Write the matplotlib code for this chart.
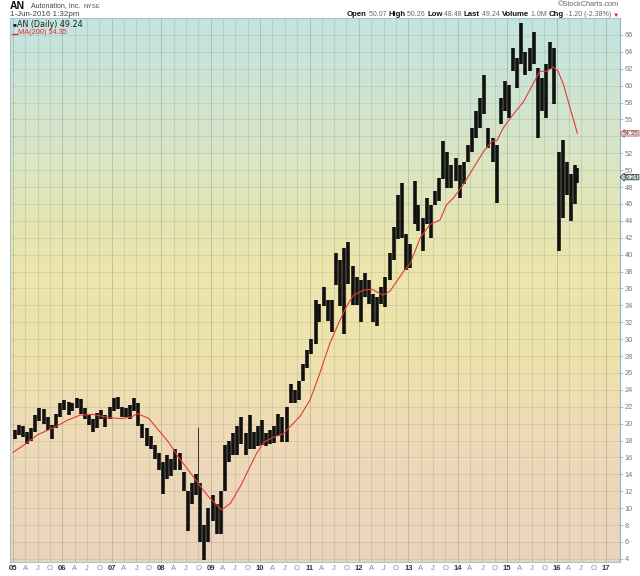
import matplotlib
matplotlib.use("Agg")
import matplotlib.pyplot as plt
import numpy as np
import pandas as pd
from datetime import datetime, timedelta
from matplotlib.offsetbox import TextArea, HPacker, AnnotationBbox
from matplotlib.colors import LinearSegmentedColormap

# ---------------- data ----------------
# monthly price range of AN, Jan 2005 .. Jun 2016
month_lows = [
    18.2, 18.6, 18.4, 17.6, 18.0, 19.0, 20.3, 20.0, 19.3, 18.2, 19.5, 20.8,   # 2005
    21.6, 21.0, 21.5, 21.8, 21.2, 20.5, 19.8, 19.0, 19.5, 20.5, 19.6, 20.5,   # 2006
    21.5, 21.7, 20.8, 20.8, 20.6, 21.5, 19.7, 18.3, 17.3, 17.0, 15.8, 14.5,   # 2007
    11.7, 13.5, 13.8, 14.5, 14.5, 12.0, 7.3, 10.5, 11.5, 6.0, 3.9, 6.0,       # 2008
    8.5, 7.0, 7.0, 12.0, 15.5, 16.3, 16.3, 17.6, 16.3, 17.0, 17.0, 17.3,      # 2009
    17.5, 17.3, 17.6, 17.7, 18.5, 17.8, 17.8, 22.4, 22.4, 22.8, 25.1, 26.6,   # 2010
    28.2, 29.4, 32.0, 33.9, 32.2, 30.8, 36.4, 33.9, 30.6, 36.5, 34.0, 34.0,   # 2011
    32.0, 35.0, 34.2, 32.0, 31.6, 34.2, 33.8, 37.0, 39.4, 41.8, 42.0, 38.2,   # 2012
    38.4, 43.6, 42.8, 40.4, 43.6, 42.0, 45.9, 46.3, 49.0, 47.9, 47.9, 48.7,   # 2013
    46.7, 48.3, 51.0, 52.2, 53.8, 55.0, 56.6, 52.6, 51.0, 46.1, 55.4, 57.0,   # 2014
    56.2, 61.7, 59.7, 62.5, 61.3, 61.7, 62.5, 53.8, 57.0, 56.2, 62.0, 57.8,   # 2015
    40.4, 44.3, 47.0, 44.0, 46.0, 48.5,                                       # 2016
]
month_highs = [
    19.3, 19.8, 19.7, 19.0, 19.5, 21.0, 21.8, 21.7, 20.8, 19.8, 21.2, 22.5,
    22.8, 22.6, 22.5, 23.0, 22.9, 21.8, 21.0, 20.5, 21.3, 21.6, 21.0, 22.0,
    23.0, 23.1, 22.0, 21.8, 22.2, 23.0, 22.5, 20.0, 19.5, 18.5, 17.5, 16.5,
    15.5, 16.3, 15.8, 17.0, 16.5, 14.3, 12.0, 13.0, 14.0, 13.0, 8.0, 10.0,
    11.5, 10.5, 12.0, 17.5, 18.0, 18.9, 19.7, 20.8, 18.9, 21.0, 19.0, 19.7,
    20.4, 18.9, 19.3, 19.7, 21.2, 20.8, 22.0, 24.7, 24.0, 25.1, 27.0, 28.7,
    30.0, 34.6, 34.2, 36.2, 34.6, 34.6, 40.2, 39.4, 40.8, 41.5, 38.6, 37.4,
    37.0, 37.8, 37.0, 35.4, 35.0, 36.2, 37.4, 40.2, 43.3, 47.0, 48.5, 42.5,
    41.2, 48.7, 45.9, 44.3, 46.7, 45.9, 47.5, 49.1, 53.4, 52.2, 50.6, 51.4,
    50.6, 51.0, 53.0, 55.0, 57.0, 58.5, 61.3, 55.0, 53.8, 53.0, 58.5, 60.5,
    60.1, 64.5, 63.3, 67.4, 64.0, 64.5, 66.4, 62.1, 60.9, 62.5, 65.2, 64.5,
    52.2, 53.6, 51.0, 49.5, 50.6, 50.3,
]
# single-day spikes
spike_dates = ["2008-09-29"]
spike_lows = [13.0]
spike_highs = [19.6]

# 200-day moving average, (decimal year, value)
ma_years = [2005.0, 2005.25, 2005.5, 2005.85, 2006.1, 2006.35, 2006.6, 2006.95,
            2007.2, 2007.4, 2007.52, 2007.75, 2007.95, 2008.15, 2008.35, 2008.55,
            2008.75, 2008.95, 2009.1, 2009.22, 2009.4, 2009.6, 2009.76, 2009.92,
            2010.07, 2010.27, 2010.47, 2010.6, 2010.81, 2011.01, 2011.21, 2011.41,
            2011.62, 2011.75, 2011.89, 2012.09, 2012.26, 2012.36, 2012.49, 2012.63,
            2012.76, 2012.9, 2013.03, 2013.24, 2013.44, 2013.64, 2013.77, 2013.91,
            2014.11, 2014.32, 2014.52, 2014.69, 2014.79, 2014.92, 2015.12, 2015.33,
            2015.53, 2015.66, 2015.8, 2015.93, 2016.03, 2016.14, 2016.27, 2016.42]
ma_values = [16.6, 17.6, 18.7, 19.6, 20.4, 21.0, 21.1, 20.7,
             20.6, 20.8, 21.2, 20.6, 19.2, 17.8, 16.0, 14.5,
             12.9, 11.4, 10.5, 9.8, 10.6, 12.6, 14.5, 16.4,
             17.8, 18.4, 18.8, 19.6, 20.9, 22.8, 26.0, 29.5,
             32.3, 33.9, 35.2, 35.8, 35.9, 35.6, 35.2, 35.7,
             36.8, 38.0, 38.9, 42.0, 43.6, 44.1, 45.9, 46.7,
             48.3, 50.3, 52.2, 53.4, 53.5, 55.0, 56.6, 58.1,
             60.3, 61.7, 61.7, 62.2, 61.7, 60.1, 57.4, 54.35]

y_ticks = list(range(4, 67, 2))
last_price = 49.24
last_ma = 54.35

# ---------------- helpers ----------------
def dec2date(y):
    yr = int(y)
    return datetime(yr, 1, 1) + timedelta(days=(y - yr) * 365.25)

month_dates = pd.date_range("2005-01-01", periods=len(month_lows), freq="MS") + pd.Timedelta(days=14)
month_dates = [min(d, pd.Timestamp("2016-06-01")) for d in month_dates]
ma_dates = [dec2date(y) for y in ma_years]

W, H = 640, 576
fig = plt.figure(figsize=(W / 100, H / 100), dpi=100)
fig.patch.set_facecolor("white")
plt.rcParams["font.family"] = ["Liberation Sans", "DejaVu Sans"]

ax = fig.add_axes([10 / W, 14 / H, 610 / W, 544 / H])

x0 = dec2date(2004.94)
x1 = dec2date(2017.28)
y0, y1 = 3.63, 68.0
ax.set_xlim(x0, x1)
ax.set_ylim(y0, y1)

# background gradient
cmap = LinearSegmentedColormap.from_list(
    "bg", [(0.0, "#c3e4e1"), (0.22, "#d6e5c8"), (0.45, "#ece6ac"),
           (0.62, "#eee3ac"), (0.78, "#eedab8"), (1.0, "#ecd4bd")])
grad = np.linspace(0, 1, 256).reshape(-1, 1)
ax.imshow(grad, extent=[0, 1, 0, 1], transform=ax.transAxes, cmap=cmap,
          aspect="auto", origin="upper", zorder=0)

# grid
quarters = pd.date_range("2005-01-01", "2017-01-01", freq="QS")
for q in quarters:
    ax.axvline(q, color=(0.45, 0.45, 0.4, 0.17 if q.month != 1 else 0.3), lw=0.75, zorder=1)
for v in y_ticks:
    ax.axhline(v, color=(0.45, 0.45, 0.4, 0.15), lw=0.75, zorder=1)

# price bars
ax.vlines(month_dates, month_lows, month_highs, color="#111111", lw=2.6, zorder=3)
ax.vlines(pd.to_datetime(spike_dates), spike_lows, spike_highs, color="#333333", lw=0.7, zorder=3)

# moving average
ax.plot(ma_dates, ma_values, color="#e23a3a", lw=0.8, zorder=4)

# axes ticks (the "54" label is hidden under the MA value box in the reference)
ax.yaxis.tick_right()
ax.set_yticks(y_ticks)
ax.set_yticklabels(["" if v == 54 else str(v) for v in y_ticks], fontsize=5.3, color="#777777")
ax.tick_params(axis="y", length=2, width=0.6, color="#9bb8d0", pad=1.5)

ax.set_xticks(quarters)
labels = []
for q in quarters:
    if q.month == 1:
        labels.append(f"{q.year % 100:02d}")
    else:
        labels.append({4: "A", 7: "J", 10: "O"}[q.month])
ax.set_xticklabels(labels, fontsize=5.5)
for lbl, q in zip(ax.get_xticklabels(), quarters):
    if q.month == 1:
        lbl.set_fontweight("bold")
        lbl.set_color("#333333")
    else:
        lbl.set_color("#888888")
ax.tick_params(axis="x", length=0, pad=2.5)

for s in ["left", "top", "bottom"]:
    ax.spines[s].set_color("#a8c4d4")
    ax.spines[s].set_linewidth(0.8)
ax.spines["right"].set_color("#8fb0cc")
ax.spines["right"].set_linestyle((0, (1, 1)))
ax.spines["right"].set_linewidth(0.8)

# right-edge value boxes
def ybox(val, text, edge, face, dy=0):
    ax.annotate(text, xy=(1.0, val), xycoords=("axes fraction", "data"),
                xytext=(2.2, dy), textcoords="offset points", fontsize=4.5,
                va="center", ha="left", color="#333333",
                bbox=dict(boxstyle="larrow,pad=0.03", fc=face, ec=edge, lw=0.6),
                zorder=6, annotation_clip=False)

ybox(last_ma, f"{last_ma:.2f}", "#e04040", "#e8f2f0")
ybox(last_price, f"{last_price:.2f}", "#333333", "#cfe9ee", dy=-0.4)

# in-plot legend
ax.text(0.004, 0.992, "\u25A0", transform=ax.transAxes, fontsize=4.5, va="top", ha="left",
        color="#222222", zorder=6)
ax.text(0.012, 0.996, f"AN (Daily) {last_price:.2f}", transform=ax.transAxes, fontsize=5.8,
        va="top", ha="left", color="#222222", family="DejaVu Sans", zorder=6)
ax.plot([0.003, 0.011], [0.971, 0.971], transform=ax.transAxes, color="#e03030", lw=1.0, zorder=6)
ax.text(0.013, 0.979, f"MA(200) {last_ma:.2f}", transform=ax.transAxes, fontsize=5.3,
        va="top", ha="left", color="#e03030", zorder=6)

# header
def fy(py):
    return 1 - py / H

fig.text(10 / W, fy(6), "AN", fontsize=7.5, fontweight="bold", va="center", ha="left", color="#111111")
fig.text(31 / W, fy(6), "Autonation, Inc.", fontsize=5.0, va="center", ha="left", color="#444444")
fig.text(84 / W, fy(6), "NYSE", fontsize=4.5, va="center", ha="left", color="#555555")
fig.text(10 / W, fy(15), "1-Jun-2016 1:32pm", fontsize=5.8, va="center", ha="left", color="#444444")
fig.text(619 / W, fy(5), "\u00A9StockCharts.com", fontsize=5.3, va="center", ha="right", color="#666666")

parts = [("Open", True), (" 50.07 ", False), ("High", True), (" 50.26 ", False),
         ("Low", True), (" 48.48 ", False), ("Last", True), (" 49.24 ", False),
         ("Volume", True), (" 1.0M ", False), ("Chg", True), (" -1.20 (-2.38%) ", False)]
areas = []
for txt, bold in parts:
    areas.append(TextArea(txt, textprops=dict(fontsize=5.6 if bold else 5.0,
                                               fontweight="bold" if bold else "normal",
                                               color="#111111" if bold else "#666666")))
areas.append(TextArea("\u25BC", textprops=dict(fontsize=4.5, color="#d02020")))
pack = HPacker(children=areas, align="baseline", pad=0, sep=0)
ab = AnnotationBbox(pack, (619 / W, fy(15)), xycoords="figure fraction",
                    box_alignment=(1, 0.5), frameon=False, pad=0)
fig.add_artist(ab)

fig.savefig("out.png", dpi=100)
